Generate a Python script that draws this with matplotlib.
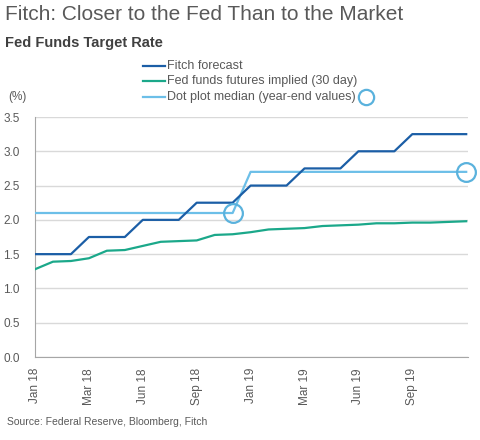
import matplotlib
matplotlib.use("Agg")
import matplotlib.pyplot as plt
from matplotlib.lines import Line2D
import numpy as np

plt.rcParams['font.family'] = ['Liberation Sans', 'DejaVu Sans']

# monthly points, Jan 18 .. Jan 20
fitch = [1.50, 1.50, 1.50, 1.75, 1.75, 1.75, 2.00, 2.00, 2.00, 2.25, 2.25, 2.25,
         2.50, 2.50, 2.50, 2.75, 2.75, 2.75, 3.00, 3.00, 3.00, 3.25, 3.25, 3.25, 3.25]
futures = [1.28, 1.39, 1.40, 1.44, 1.55, 1.56, 1.62, 1.68, 1.69, 1.70, 1.78, 1.79,
           1.82, 1.86, 1.87, 1.88, 1.91, 1.92, 1.93, 1.95, 1.95, 1.96, 1.96, 1.97, 1.98]
dot_plot = [2.1] * 12 + [2.7] * 13
year_end_idx = [11, 24]

tick_idx = [0, 3, 6, 9, 12, 15, 18, 21]
tick_labels = ['Jan 18', 'Mar 18', 'Jun 18', 'Sep 18', 'Jan 19', 'Mar 19', 'Jun 19', 'Sep 19']

c_fitch = '#1b5ea6'
c_fut = '#1ba88a'
c_dot = '#6cbfe8'
c_circ = '#5ab2dd'
grey = '#595959'

W, H = 480, 440
fig = plt.figure(figsize=(4.8, 4.4), dpi=100)
ax = fig.add_axes([35 / W, 1 - 357 / H, 433 / W, 240 / H])

x = np.arange(len(fitch))
ax.plot(x, dot_plot, color=c_dot, lw=1.6, zorder=3)
ax.plot(x, futures, color=c_fut, lw=1.6, zorder=3)
ax.plot(x, fitch, color=c_fitch, lw=1.6, zorder=4)
ax.plot(year_end_idx, [dot_plot[i] for i in year_end_idx], 'o', ms=13.5,
        mfc='none', mec=c_circ, mew=1.6, clip_on=False, zorder=5)

ax.set_xlim(0, 24.1)
ax.set_ylim(0, 3.5)
ax.set_yticks(np.arange(0, 3.51, 0.5))
ax.set_yticklabels([f'{v:.1f}' for v in np.arange(0, 3.51, 0.5)])
ax.set_xticks(tick_idx)
ax.set_xticklabels(tick_labels, rotation=90)
ax.tick_params(axis='both', length=0, colors=grey, labelsize=8.5)
ax.tick_params(axis='y', pad=11)
ax.tick_params(axis='x', pad=8)
ax.grid(axis='y', color='#d9d9d9', lw=1)
ax.set_axisbelow(True)
for s in ['top', 'right']:
    ax.spines[s].set_visible(False)
ax.spines['left'].set_color('#a6a6a6')
ax.spines['bottom'].set_color('#a6a6a6')

fig.text(5 / W, 1 - 15 / H, 'Fitch: Closer to the Fed Than to the Market',
         fontsize=15, color=grey, va='center', ha='left')
fig.text(5 / W, 1 - 43 / H, 'Fed Funds Target Rate', fontsize=10.5,
         fontweight='bold', color='#404040', va='center', ha='left')
fig.text(8 / W, 1 - 97 / H, '(%)', fontsize=8.5, color=grey, va='center')

# legend
leg = [('Fitch forecast', c_fitch), ('Fed funds futures implied (30 day)', c_fut),
       ('Dot plot median (year-end values)', c_dot)]
for k, (lab, c) in enumerate(leg):
    yy = 1 - (65.5 + 15.5 * k) / H
    fig.add_artist(Line2D([143 / W, 165 / W], [yy, yy], color=c, lw=1.6))
    fig.text(167 / W, yy, lab, fontsize=9, color=grey, va='center')
fig.add_artist(Line2D([366 / W], [1 - 97 / H], marker='o', ms=11, mfc='none',
                      mec=c_circ, mew=1.6))

fig.text(7 / W, 1 - 422 / H, 'Source: Federal Reserve, Bloomberg, Fitch',
         fontsize=7.5, color=grey, va='center')

fig.savefig('out.png', dpi=100)
